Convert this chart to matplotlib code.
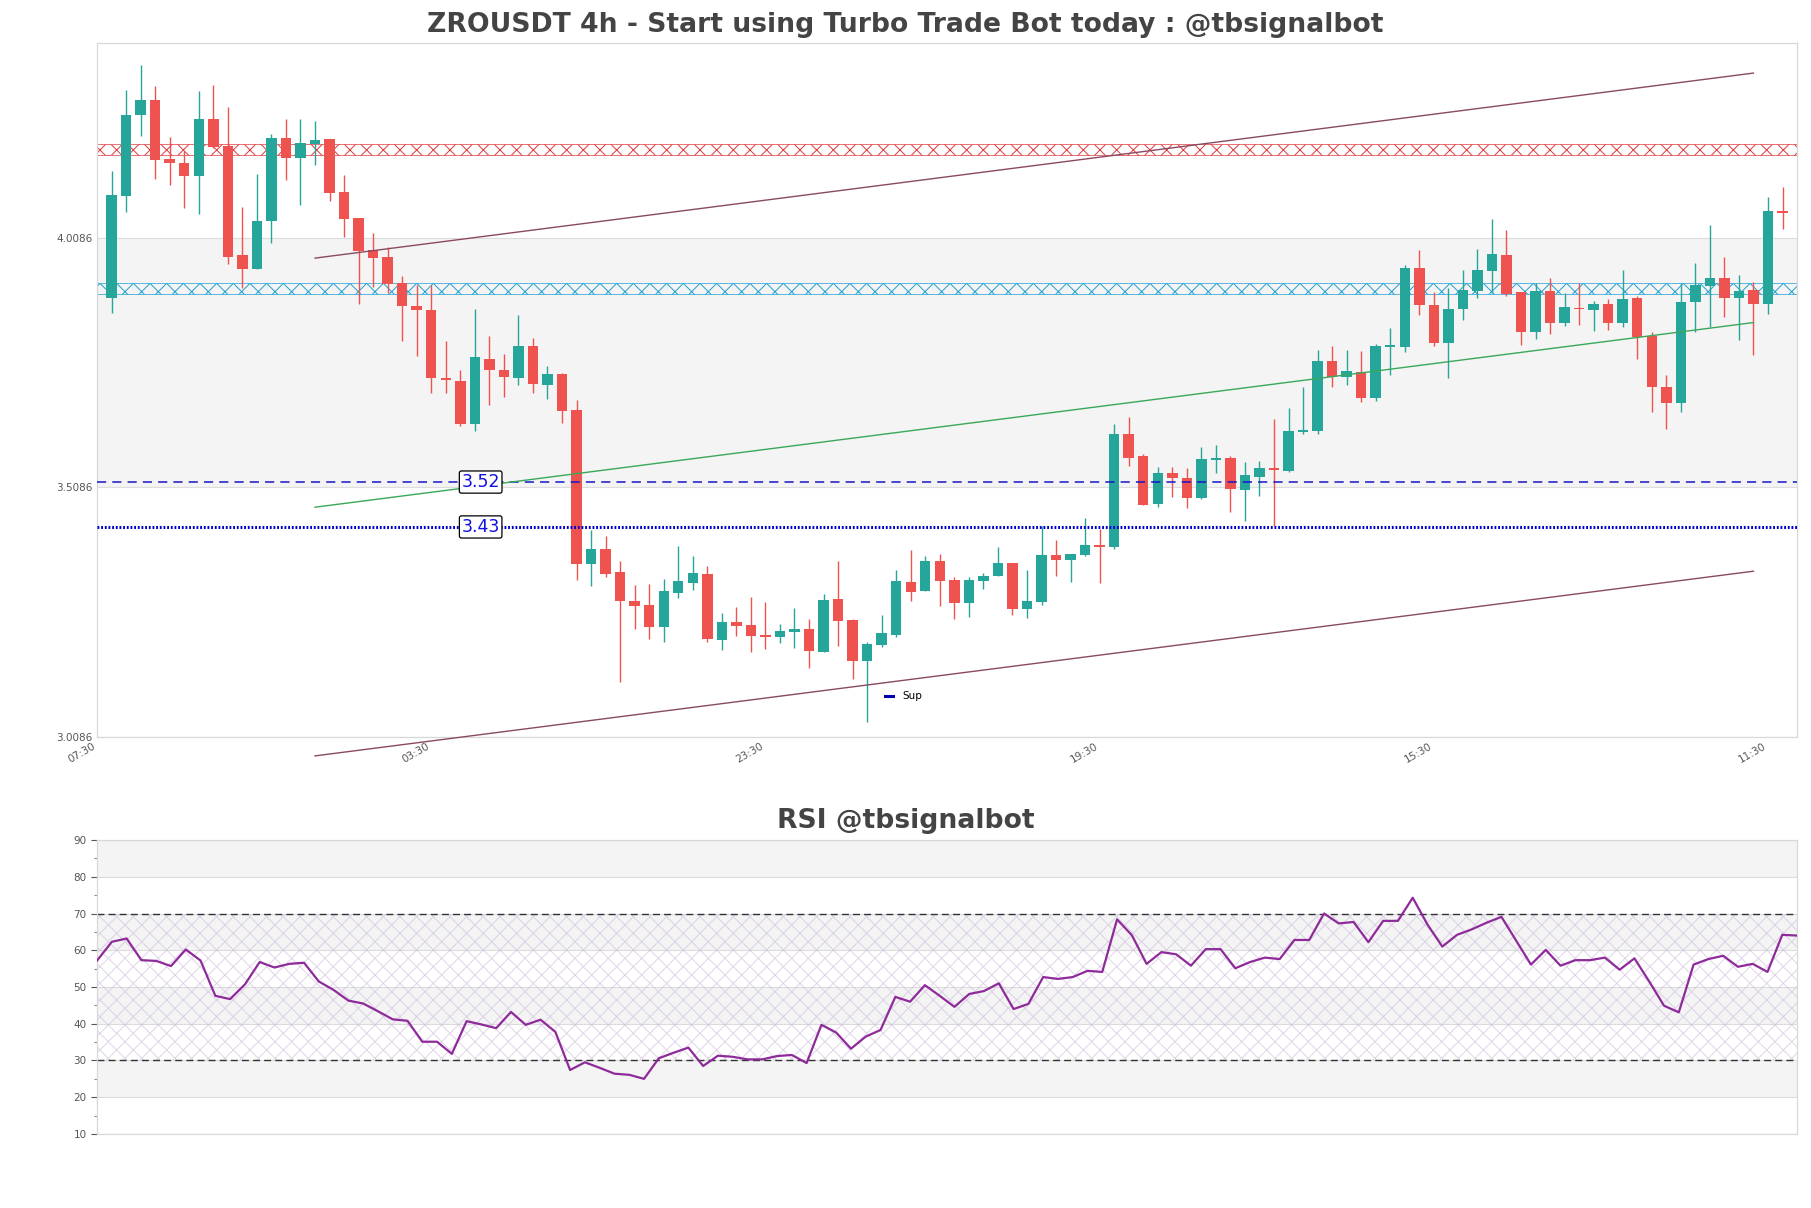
import matplotlib
matplotlib.use("Agg")
import matplotlib.pyplot as plt
from matplotlib.lines import Line2D

# ---- data ----
opens = [3.889, 4.092, 4.254, 4.285, 4.166, 4.159, 4.132, 4.247, 4.192, 3.975,
         3.947, 4.043, 4.209, 4.168, 4.197, 4.207, 4.100, 4.048, 3.985, 3.970,
         3.918, 3.872, 3.864, 3.728, 3.722, 3.636, 3.765, 3.743, 3.728, 3.792,
         3.713, 3.736, 3.664, 3.355, 3.385, 3.338, 3.281, 3.273, 3.229, 3.297,
         3.317, 3.335, 3.203, 3.239, 3.232, 3.212, 3.209, 3.219, 3.224, 3.179,
         3.285, 3.243, 3.161, 3.193, 3.213, 3.319, 3.301, 3.361, 3.323, 3.277,
         3.321, 3.330, 3.357, 3.265, 3.279, 3.372, 3.363, 3.372, 3.392, 3.388,
         3.616, 3.572, 3.475, 3.538, 3.528, 3.487, 3.564, 3.568, 3.503, 3.529,
         3.547, 3.542, 3.620, 3.622, 3.761, 3.729, 3.739, 3.688, 3.790, 3.789,
         3.949, 3.874, 3.797, 3.866, 3.902, 3.943, 3.975, 3.900, 3.819, 3.902,
         3.837, 3.868, 3.864, 3.876, 3.837, 3.889, 3.811, 3.710, 3.678, 3.881,
         3.913, 3.929, 3.888, 3.904, 3.876, 4.063]
highs = [4.143, 4.305, 4.356, 4.313, 4.211, 4.182, 4.303, 4.315, 4.270, 4.071,
         4.137, 4.216, 4.247, 4.247, 4.243, 4.207, 4.135, 4.048, 4.018, 3.990,
         3.932, 3.914, 3.914, 3.801, 3.744, 3.866, 3.811, 3.776, 3.854, 3.807,
         3.751, 3.738, 3.684, 3.423, 3.410, 3.360, 3.313, 3.315, 3.325, 3.390,
         3.370, 3.350, 3.256, 3.269, 3.288, 3.279, 3.235, 3.266, 3.244, 3.295,
         3.361, 3.244, 3.198, 3.253, 3.343, 3.383, 3.371, 3.375, 3.329, 3.329,
         3.336, 3.388, 3.357, 3.343, 3.430, 3.403, 3.375, 3.447, 3.424, 3.636,
         3.650, 3.576, 3.550, 3.550, 3.547, 3.590, 3.594, 3.571, 3.560, 3.561,
         3.646, 3.667, 3.709, 3.783, 3.791, 3.784, 3.782, 3.795, 3.828, 3.955,
         3.985, 3.901, 3.908, 3.944, 3.987, 4.047, 4.025, 3.900, 3.918, 3.929,
         3.898, 3.919, 3.882, 3.886, 3.944, 3.892, 3.820, 3.734, 3.918, 3.958,
         4.035, 3.971, 3.934, 3.921, 4.090, 4.110]
lows = [3.858, 4.061, 4.212, 4.127, 4.114, 4.069, 4.057, 4.189, 3.956, 3.908,
        3.947, 3.999, 4.125, 4.075, 4.154, 4.083, 4.011, 3.876, 3.910, 3.899,
        3.801, 3.772, 3.698, 3.698, 3.632, 3.622, 3.674, 3.690, 3.713, 3.698,
        3.686, 3.638, 3.323, 3.310, 3.328, 3.119, 3.225, 3.205, 3.199, 3.287,
        3.303, 3.198, 3.183, 3.211, 3.178, 3.185, 3.196, 3.187, 3.146, 3.179,
        3.191, 3.125, 3.037, 3.189, 3.208, 3.281, 3.301, 3.271, 3.245, 3.249,
        3.305, 3.330, 3.253, 3.247, 3.273, 3.330, 3.319, 3.370, 3.317, 3.385,
        3.552, 3.473, 3.470, 3.490, 3.468, 3.486, 3.538, 3.458, 3.440, 3.491,
        3.430, 3.540, 3.615, 3.615, 3.709, 3.713, 3.679, 3.682, 3.733, 3.779,
        3.853, 3.791, 3.727, 3.843, 3.889, 3.898, 3.892, 3.793, 3.805, 3.815,
        3.831, 3.834, 3.822, 3.823, 3.830, 3.766, 3.659, 3.625, 3.659, 3.820,
        3.829, 3.849, 3.804, 3.773, 3.856, 4.027]
closes = [4.095, 4.255, 4.285, 4.164, 4.158, 4.132, 4.247, 4.190, 3.971, 3.947,
          4.043, 4.209, 4.168, 4.198, 4.205, 4.098, 4.047, 3.983, 3.969, 3.917,
          3.871, 3.863, 3.727, 3.723, 3.636, 3.769, 3.743, 3.729, 3.792, 3.715,
          3.736, 3.662, 3.355, 3.385, 3.335, 3.281, 3.271, 3.229, 3.301, 3.321,
          3.336, 3.205, 3.239, 3.231, 3.211, 3.209, 3.221, 3.224, 3.181, 3.283,
          3.241, 3.161, 3.195, 3.217, 3.321, 3.299, 3.361, 3.321, 3.277, 3.323,
          3.331, 3.357, 3.265, 3.281, 3.372, 3.363, 3.374, 3.392, 3.388, 3.616,
          3.568, 3.473, 3.538, 3.528, 3.487, 3.565, 3.567, 3.505, 3.533, 3.547,
          3.544, 3.622, 3.622, 3.761, 3.729, 3.741, 3.688, 3.792, 3.792, 3.949,
          3.873, 3.797, 3.866, 3.904, 3.944, 3.977, 3.897, 3.819, 3.902, 3.837,
          3.869, 3.865, 3.876, 3.837, 3.886, 3.809, 3.710, 3.678, 3.881, 3.914,
          3.929, 3.888, 3.902, 3.876, 4.063, 4.058]

rsi = [57.2, 62.3, 63.2, 57.3, 57.1, 55.7, 60.2, 57.2, 47.6, 46.7,
       50.7, 56.8, 55.3, 56.3, 56.6, 51.5, 49.2, 46.3, 45.5, 43.4,
       41.2, 40.8, 35.1, 35.1, 31.8, 40.7, 39.8, 38.8, 43.2, 39.7,
       41.1, 37.8, 27.4, 29.5, 28.0, 26.4, 26.1, 25.0, 30.6, 32.1,
       33.5, 28.5, 31.3, 31.0, 30.3, 30.3, 31.2, 31.5, 29.3, 39.7,
       37.6, 33.2, 36.5, 38.3, 47.3, 46.0, 50.5, 47.6, 44.6, 48.1,
       48.9, 51.0, 44.0, 45.4, 52.7, 52.2, 52.7, 54.4, 54.1, 68.4,
       64.1, 56.3, 59.5, 58.9, 55.8, 60.3, 60.3, 55.1, 56.8, 58.0,
       57.6, 62.8, 62.8, 70.0, 67.3, 67.7, 62.2, 68.0, 68.0, 74.3,
       67.0, 61.0, 64.2, 65.7, 67.5, 69.1, 62.6, 56.1, 60.1, 55.8,
       57.3, 57.3, 58.0, 54.7, 57.8, 51.5, 44.9, 43.1, 56.1, 57.6,
       58.5, 55.5, 56.3, 54.1, 64.2, 64.0]

tick_labels = ['07:30', '03:30', '23:30', '19:30', '15:30', '11:30']
tick_every = 23

resistance_zone = [4.175, 4.197]
support_zone = [3.896, 3.918]
sup_levels = [3.519, 3.429]

channel_x = [14, 113]
channel_upper = [3.968, 4.339]
channel_mid = [3.4686, 3.8388]
channel_lower = [2.970, 3.3403]

price_ticks = [3.0086, 3.5086, 4.0086]

# ---- figure ----
GREEN = '#26a69a'
RED = '#ef5350'
GRID = '#dcdcdc'
TXT = '#555555'

plt.rcParams['hatch.linewidth'] = 0.7
fig = plt.figure(figsize=(18.11, 12.08), dpi=100)
ax = fig.add_axes([0.0536, 0.3902, 0.9387, 0.5745])
ax2 = fig.add_axes([0.0536, 0.0613, 0.9387, 0.2433])

n = len(closes)
xs = list(range(n))

# background band + grid
ax.axhspan(price_ticks[1], price_ticks[2], color='#f4f4f4', zorder=0, lw=0)
for t in price_ticks:
    ax.axhline(t, color=GRID, lw=0.8, zorder=0.5)

# candles
for i in xs:
    o, h, l, c = opens[i], highs[i], lows[i], closes[i]
    col = GREEN if c >= o else RED
    ax.vlines(i, l, h, color=col, lw=1, zorder=2)
    body = max(abs(c - o), 0.003)
    ax.bar(i, body, bottom=min(o, c), width=0.72, color=col, zorder=3, lw=0)

# zones
ax.axhspan(resistance_zone[0], resistance_zone[1], facecolor='none',
           edgecolor='#e0393e', hatch='xx', lw=0.5, zorder=1.5)
ax.axhspan(support_zone[0], support_zone[1], facecolor='none',
           edgecolor='#1ea0d6', hatch='xx', lw=0.5, zorder=1.5)

# support levels
ax.axhline(sup_levels[0], color='#1515c8', lw=1.1, ls=(0, (6, 4)), zorder=4)
ax.axhline(sup_levels[1], color='#0000d0', lw=2.2, ls=(0, (0.6, 0.6)), zorder=4)
for lv in sup_levels:
    ax.text(25.4, lv, f'{lv:.2f}', ha='center', va='center', color='#1010e0',
            fontsize=12.5, zorder=6,
            bbox=dict(boxstyle='round,pad=0.12', fc='white', ec='black', lw=0.9))

# channel
ax.plot(channel_x, channel_upper, color='#8a4a60', lw=1, clip_on=False, zorder=4)
ax.plot(channel_x, channel_mid, color='#3aa85a', lw=1, clip_on=False, zorder=4)
ax.plot(channel_x, channel_lower, color='#8a4a60', lw=1, clip_on=False, zorder=4)

ax.set_xlim(-1, n)
ax.set_ylim(3.0086, 4.40)
ax.set_yticks(price_ticks)
ax.set_yticklabels([f'{t:.4f}' for t in price_ticks])
tick_pos = [-1 + tick_every * k for k in range(len(tick_labels))]
ax.set_xticks(tick_pos)
ax.set_xticklabels(tick_labels, rotation=30, ha='right')
ax.tick_params(axis='both', length=0, labelsize=7.5, colors=TXT, pad=3)
for s in ax.spines.values():
    s.set_color('#d8d8d8')
    s.set_linewidth(0.9)

ax.legend(handles=[Line2D([], [], color='#0000aa', lw=2.2)], labels=['Sup'],
          loc='center left', bbox_to_anchor=(0.461, 0.058), frameon=False,
          fontsize=7.5, handlelength=0.8, handletextpad=0.9, borderaxespad=0)

# ---- RSI ----
for lo in (80, 60, 40, 20):
    ax2.axhspan(lo, lo + 10, color='#f4f4f4', lw=0, zorder=0)
for t in range(10, 91, 10):
    ax2.axhline(t, color=GRID, lw=0.8, zorder=0.5)
ax2.fill_between([0, n - 1], 30, 70, facecolor='none',
                 edgecolor=(0.8, 0.72, 0.86, 0.6), hatch='xx', lw=0, zorder=1)
ax2.axhline(70, color='#333333', lw=1, ls=(0, (5, 3)), zorder=2)
ax2.axhline(30, color='#333333', lw=1, ls=(0, (5, 3)), zorder=2)
ax2.plot(xs, rsi, color='#8e2a9a', lw=1.6, zorder=3)

ax2.set_xlim(0, n - 1)
ax2.set_ylim(10, 90)
ax2.set_yticks(range(10, 91, 10))
ax2.set_yticks(range(15, 90, 10), minor=True)
ax2.set_xticks([])
ax2.tick_params(axis='y', which='major', length=4, labelsize=7.5, colors=TXT,
                width=0.8)
ax2.tick_params(axis='y', which='minor', length=2, colors='#888888', width=0.8)
for s in ax2.spines.values():
    s.set_color('#d8d8d8')
    s.set_linewidth(0.9)

fig.text(0.5, 0.979, 'ZROUSDT 4h - Start using Turbo Trade Bot today : @tbsignalbot',
         ha='center', va='center', fontsize=19.2, fontweight='bold', color='#444444')
fig.text(0.5, 0.3205, 'RSI @tbsignalbot', ha='center', va='center',
         fontsize=19.2, fontweight='bold', color='#444444')

fig.savefig('out.png', dpi=100)
